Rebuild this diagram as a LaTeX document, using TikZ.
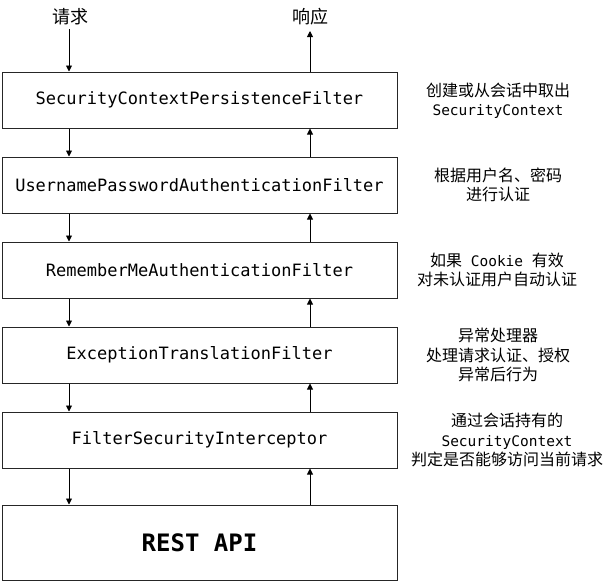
\documentclass[tikz,border=0pt]{standalone}
\usepackage{fontspec}
\setmonofont{DejaVu Sans Mono}
\newfontfamily\cjk{Noto Sans CJK SC}
\usetikzlibrary{arrows.meta}
\tikzset{
  filterbox/.style={draw=black!85, line width=1pt, minimum width=395pt, minimum height=56pt, inner sep=0pt, font=\fontsize{17}{18}\ttfamily},
  apibox/.style={draw=black!85, line width=1pt, minimum width=395pt, minimum height=75pt, inner sep=0pt, font=\fontsize{24}{26}\ttfamily\bfseries},
  flow/.style={line width=0.9pt, -{Triangle[length=6pt,width=6pt]}},
  note/.style={align=center, font=\fontsize{16}{19.5}\cjk},
  io/.style={font=\fontsize{18}{20}\cjk}
}
\newcommand{\mt}[1]{{\fontsize{14.5}{19.5}\ttfamily #1}}
\begin{document}
\begin{tikzpicture}[x=1pt,y=-1pt]
\useasboundingbox (0,0) rectangle (611,582);
\node[filterbox] (f1) at (199.5,100) {SecurityContextPersistenceFilter};
\node[filterbox] (f2) at (199.5,185) {UsernamePasswordAuthenticationFilter};
\node[filterbox] (f3) at (199.5,270) {RememberMeAuthenticationFilter};
\node[filterbox] (f4) at (199.5,355) {ExceptionTranslationFilter};
\node[filterbox] (f5) at (199.5,440) {FilterSecurityInterceptor};
\node[apibox] (api) at (199.5,542.5) {REST API};
\node[io] (req) at (70,17) {请求};
\node[io] (resp) at (310,17) {响应};
\coordinate (reqend) at (69,29);
\coordinate (respend) at (310,31);
\node[note] (n1) at (498,101) {创建或从会话中取出\\\mt{SecurityContext}};
\node[note] (n2) at (498,185) {根据用户名、密码\\进行认证};
\node[note] (n3) at (497,270) {如果\mt{ Cookie }有效\\对未认证用户自动认证};
\node[note] (n4) at (498,355) {异常处理器\\处理请求认证、授权\\异常后行为};
\node[note] (n5) at (507,440) {通过会话持有的\\\mt{SecurityContext}\\判定是否能够访问当前请求};
% downward (request) arrows
\draw[flow] (reqend) -- (reqend |- f1.north);
\foreach \a/\b in {f1/f2,f2/f3,f3/f4,f4/f5,f5/api}
  \draw[flow] (\a.south -| reqend) -- (\b.north -| reqend);
% upward (response) arrows
\foreach \a/\b in {api/f5,f5/f4,f4/f3,f3/f2,f2/f1}
  \draw[flow] (\a.north -| respend) -- (\b.south -| respend);
\draw[flow] (respend |- f1.north) -- (respend);
\end{tikzpicture}
\end{document}
